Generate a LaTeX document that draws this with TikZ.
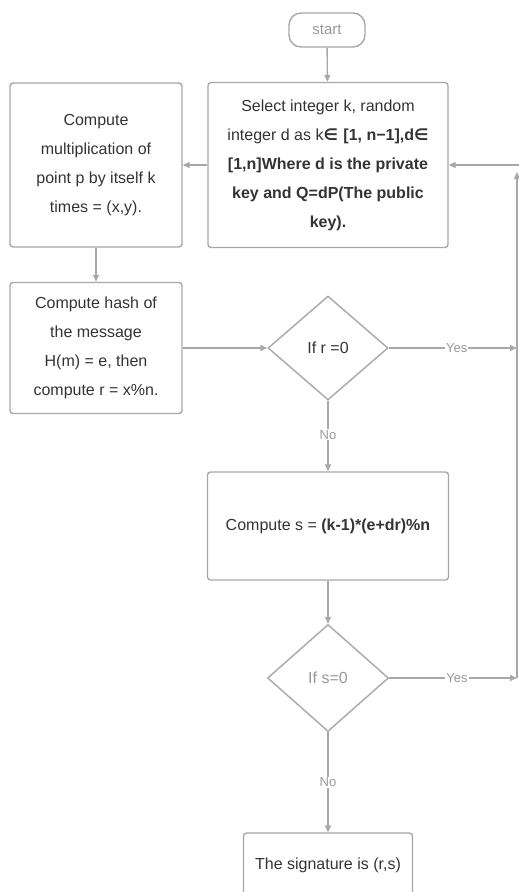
\documentclass[tikz,border=0pt]{standalone}
\usepackage{fontspec}
\setmainfont{Liberation Sans}
\newfontfamily\symfont{DejaVu Sans}
\usetikzlibrary{shapes.geometric,arrows.meta}
\definecolor{linegray}{HTML}{A8A8A8}
\definecolor{textdark}{HTML}{333333}
\definecolor{textlight}{HTML}{999999}
\begin{document}
\begin{tikzpicture}[x=1pt,y=-1pt,
  box/.style={draw=linegray,line width=1.4pt,rounded corners=3pt,align=center,
    text=textdark,font=\fontsize{16}{29}\selectfont,inner sep=0pt},
  pill/.style={draw=linegray,line width=1.4pt,rounded corners=12pt,
    text=textlight,font=\fontsize{15}{17}\selectfont,inner sep=0pt,
    minimum width=76pt,minimum height=34pt},
  decision/.style={draw=linegray,line width=1.4pt,diamond,aspect=1,inner sep=0pt,
    font=\fontsize{16}{18}\selectfont},
  flow/.style={draw=linegray,line width=1.4pt,
    -{Triangle[length=7pt,width=6pt]}},
  lbl/.style={fill=white,text=textlight,font=\fontsize{13}{15}\selectfont,inner sep=1pt}
]
\useasboundingbox (0,0) rectangle (519,892);

% terminal and process boxes
\node[pill] (start) at (327,30) {start};
\node[box,minimum width=240pt,minimum height=165pt] (select) at (328,165)
  {Select integer k, random\\
   integer d as k\textbf{\symfont ∈ }\textbf{[1, n−1],d\symfont ∈}\\
   \textbf{[1,n]Where d is the private}\\
   \textbf{key and Q=dP(The public}\\
   \textbf{key).}};
\node[box,minimum width=172pt,minimum height=164pt] (mult) at (96,165)
  {Compute\\ multiplication of\\ point p by itself k\\ times = (x,y).};
\node[box,minimum width=172pt,minimum height=131pt] (hash) at (96,348)
  {Compute hash of\\ the message\\ H(m) = e, then\\ compute r = x\%n.};
\node[decision,minimum width=120pt,minimum height=104pt,text=textdark] (dr) at (328,348) {If r =0};
\node[box,minimum width=241pt,minimum height=108pt] (comps) at (328,526)
  {Compute s = \textbf{(k-1)*(e+dr)\%n}};
\node[decision,minimum width=121pt,minimum height=107pt,text=textlight] (ds) at (328,678) {If s=0};
\node[box,minimum width=169pt,minimum height=64pt] (sig) at (328,865)
  {The signature is (r,s)};

% loop-back rail on the right
\coordinate (railTop) at (517,172);
\coordinate (railBot) at (517,678);
\coordinate (railR) at (517,348);
\coordinate (entry) at (530,165);

% connectors
\draw[flow] (start) -- (select);
\draw[flow] (select.west) -- (mult.east);
\draw[flow] (mult) -- (hash);
\draw[flow] (hash.east) -- (dr.west);
\draw[flow] (dr.east) -- node[lbl,pos=0.53]{Yes} (railR);
\draw[flow] (dr.south) -- node[lbl,pos=0.48]{No} (comps.north);
\draw[flow] (comps) -- (ds);
\draw[flow] (ds.east) -- node[lbl,pos=0.53]{Yes} (railBot);
\draw[flow] (ds.south) -- node[lbl,pos=0.5]{No} (sig.north);
\draw[flow] (railBot) -- (railTop);
\draw[flow] (entry) -- (select.east);
\end{tikzpicture}
\end{document}
